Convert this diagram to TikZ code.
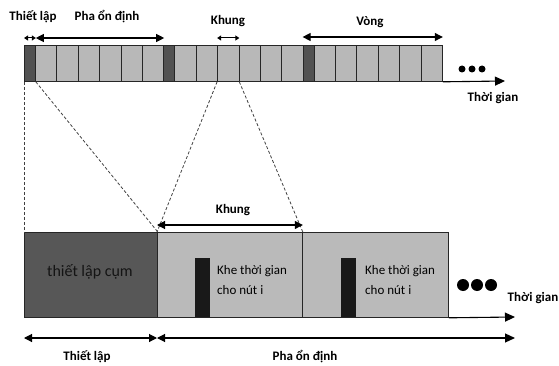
\documentclass[tikz,border=0pt]{standalone}
\usepackage{fontspec}
\setmainfont{Carlito}
\usetikzlibrary{arrows.meta}
\begin{document}
\begin{tikzpicture}[x=1pt,y=-1pt,
  darkcell/.style={draw=black!85, fill=black!68, line width=0.8pt, inner sep=0pt, anchor=north west, minimum height=36pt},
  lightcell/.style={draw=black!85, fill=black!28, line width=0.8pt, inner sep=0pt, anchor=north west, minimum height=36pt},
  bigdark/.style={draw=black!85, fill=black!66, line width=0.8pt, inner sep=0pt, anchor=north west, minimum height=85pt},
  biglight/.style={draw=black!85, fill=black!27, line width=0.8pt, inner sep=0pt, anchor=north west, minimum height=85pt},
  slot/.style={fill=black!90, draw=none, inner sep=0pt, anchor=north west, minimum width=15pt, minimum height=59pt},
  dimarrow/.style={line width=1.1pt, {Triangle[length=8pt,width=8pt]}-{Triangle[length=8pt,width=8pt]}},
  smallarrow/.style={line width=1pt, {Triangle[length=4pt,width=5pt]}-{Triangle[length=4pt,width=5pt]}},
  axis/.style={line width=1.1pt, -{Triangle[length=10pt,width=9pt]}},
  guide/.style={draw=black!75, line width=0.8pt, dashed, dash pattern=on 3pt off 2pt},
  lbl/.style={font=\bfseries\fontsize{13}{15}\selectfont, inner sep=0pt},
  body/.style={font=\fontsize{13}{20}\selectfont, inner sep=0pt, align=left, anchor=west},
  dot/.style={circle, fill=black, inner sep=0pt}
]
\useasboundingbox (0,0) rectangle (559,366);

% top bar
\foreach \r in {0,1,2}{
  \pgfmathsetmacro\xo{24+139.3*\r}
  \node[darkcell, minimum width=11pt] (d\r) at (\xo,45) {};
  \foreach \i in {1,...,6}{
    \pgfmathsetmacro\xc{\xo+11+21.4*(\i-1)}
    \node[lightcell, minimum width=21.4pt] (c\r\i) at (\xc,45) {};
  }
}
\coordinate (t1) at (505,81);
\draw[axis] (c26.south east) -- (t1);
\node[dot, minimum size=7pt] (p1) at (462,69) {};
\node[dot, minimum size=7pt] (p2) at (472,69) {};
\node[dot, minimum size=7pt] (p3) at (482,69) {};
\node[lbl] (tg1) at (493,98) {Thời gian};

% top dimension arrows
\draw[smallarrow] ([yshift=7pt]d0.north west) -- ([yshift=7pt]d0.north east);
\draw[dimarrow] ([yshift=7pt]d0.north east) -- ([yshift=7pt]c06.north east);
\draw[smallarrow] ([yshift=7pt]c13.north west) -- ([yshift=7pt]c13.north east);
\draw[dimarrow] ([yshift=8pt]d2.north west) -- ([yshift=8pt]c26.north east);
\node[lbl] (l1) at (33,17) {Thiết lập};
\node[lbl] (l2) at (107,17) {Pha ổn định};
\node[lbl] (l3) at (228,21) {Khung};
\node[lbl] (l4) at (370,22) {Vòng};

% bottom boxes
\node[bigdark, minimum width=133pt] (setup) at (24,232) {};
\node[font=\fontsize{16}{18}\selectfont, text=black!92, inner sep=0pt] (setuptxt) at (90,272) {thiết lập cụm};
\node[biglight, minimum width=145pt] (f1) at (157,232) {};
\node[biglight, minimum width=146pt] (f2) at (302,232) {};
\node[slot] (s1) at (195,258) {};
\node[slot] (s2) at (341,258) {};
\node[body] (k1) at (217,280) {Khe thời gian\\cho nút i};
\node[body] (k2) at (365,280) {Khe thời gian\\cho nút i};

% guides
\draw[guide] (d0.south west) -- (setup.north west);
\draw[guide] (d0.south east) -- (setup.north east);
\draw[guide] (c13.south west) -- (f1.north west);
\draw[guide] (c13.south east) -- (f1.north east);

% Khung bottom
\draw[dimarrow] ([yshift=7pt]f1.north west) -- ([yshift=7pt]f1.north east);
\node[lbl] (l5) at (233,210) {Khung};

% bottom axis
\coordinate (t2) at (515,317);
\draw[axis] (f2.south east) -- (t2);
\node[dot, minimum size=12pt] (q1) at (463,285) {};
\node[dot, minimum size=12pt] (q2) at (477,285) {};
\node[dot, minimum size=12pt] (q3) at (491,285) {};
\node[lbl] (tg2) at (533,298) {Thời gian};

% bottom dimension arrows
\coordinate (b0) at (24,338);
\coordinate (b1) at (157,338);
\coordinate (b2) at (515,338);
\draw[dimarrow] (b0) -- (b1);
\draw[line width=1.1pt, {Triangle[length=8pt,width=8pt]}-{Triangle[length=10pt,width=9pt]}] (b1) -- (b2);
\node[lbl] (l6) at (87,357) {Thiết lập};
\node[lbl] (l7) at (305,357) {Pha ổn định};
\end{tikzpicture}
\end{document}
